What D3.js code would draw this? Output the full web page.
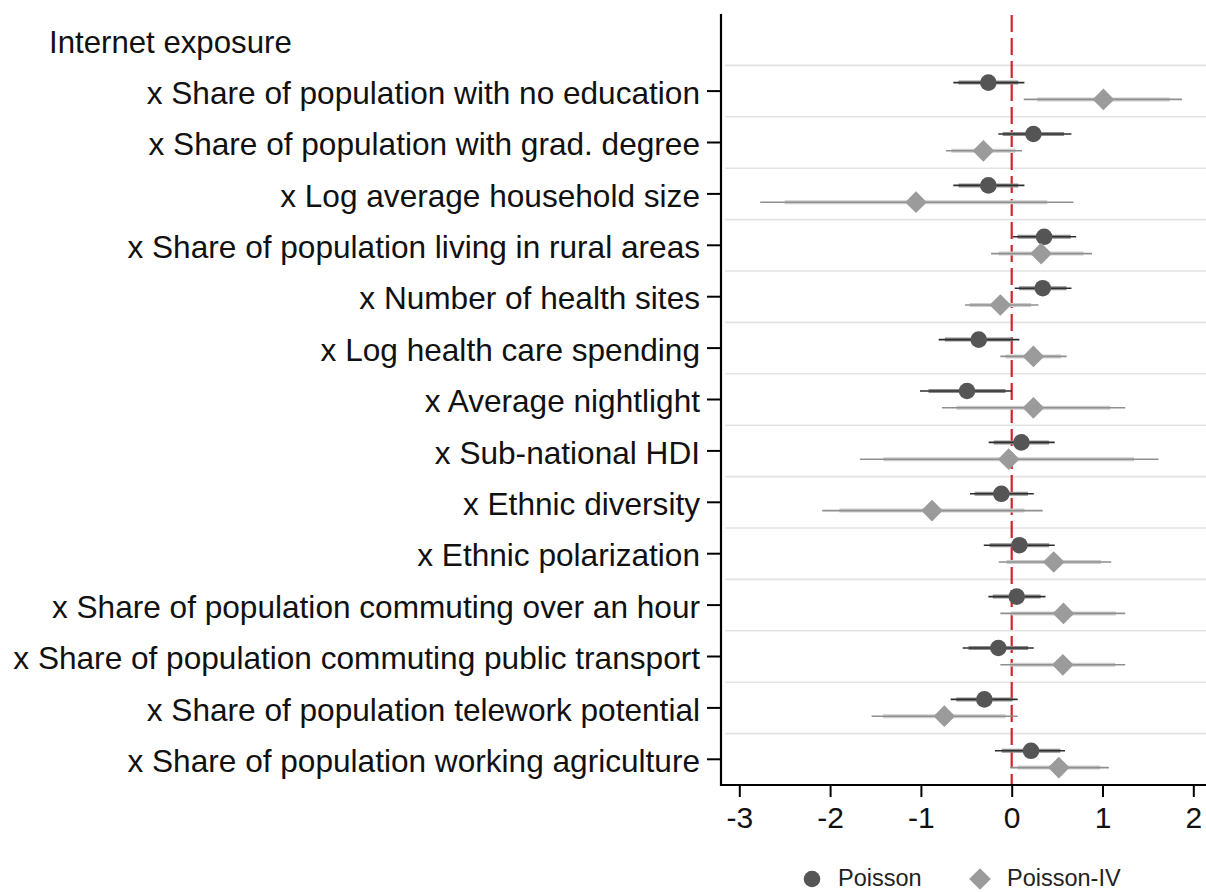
<!DOCTYPE html>
<html><head><meta charset="utf-8">
<script src="https://cdn.jsdelivr.net/npm/d3@7"></script>
<style>
html,body{margin:0;padding:0;background:#fff;}
svg{display:block;font-family:"Liberation Sans",Arial,Helvetica,sans-serif;}
</style></head>
<body>
<svg id="chart" width="1206" height="892"></svg>
<script>
const header = "Internet exposure";
const categories = [
  "x Share of population with no education",
  "x Share of population with grad. degree",
  "x Log average household size",
  "x Share of population living in rural areas",
  "x Number of health sites",
  "x Log health care spending",
  "x Average nightlight",
  "x Sub-national HDI",
  "x Ethnic diversity",
  "x Ethnic polarization",
  "x Share of population commuting over an hour",
  "x Share of population commuting public transport",
  "x Share of population telework potential",
  "x Share of population working agriculture"
];
const seriesNames = ["Poisson", "Poisson-IV"];
const poisson     = [-0.257, 0.239, -0.257, 0.357, 0.342, -0.363, -0.492, 0.107, -0.114, 0.085, 0.055, -0.147, -0.301, 0.213];
const poissonLo95 = [-0.643, -0.147, -0.643, 0.011, 0.033, -0.804, -1.010, -0.254, -0.459, -0.308, -0.257, -0.540, -0.672, -0.184];
const poissonHi95 = [0.140, 0.658, 0.140, 0.710, 0.658, 0.085, 0.000, 0.474, 0.243, 0.474, 0.372, 0.243, 0.066, 0.587];
const poissonLo90 = [-0.586, -0.099, -0.586, 0.064, 0.080, -0.736, -0.916, -0.198, -0.408, -0.243, -0.209, -0.475, -0.611, -0.110];
const poissonHi90 = [0.072, 0.577, 0.072, 0.650, 0.604, 0.010, -0.068, 0.412, 0.180, 0.413, 0.319, 0.181, 0.009, 0.536];
const iv     = [1.010, -0.312, -1.054, 0.324, -0.125, 0.239, 0.239, -0.033, -0.878, 0.463, 0.570, 0.563, -0.742, 0.519];
const ivLo95 = [0.133, -0.724, -2.770, -0.227, -0.514, -0.125, -0.768, -1.672, -2.087, -0.143, -0.125, -0.125, -1.543, -0.018];
const ivHi95 = [1.875, 0.114, 0.680, 0.885, 0.294, 0.605, 1.250, 1.617, 0.342, 1.096, 1.250, 1.250, 0.066, 1.070];
const ivLo90 = [0.279, -0.664, -2.501, -0.142, -0.464, -0.067, -0.608, -1.413, -1.897, -0.057, -0.007, -0.014, -1.417, 0.063];
const ivHi90 = [1.741, 0.040, 0.393, 0.790, 0.214, 0.545, 1.086, 1.347, 0.141, 0.983, 1.147, 1.140, -0.067, 0.975];
const xTicks = [-3, -2, -1, 0, 1, 2];

const svg = d3.select("#chart");
const W = 1206, H = 892;
svg.append("rect").attr("width", W).attr("height", H).attr("fill", "#fff");

const plotLeft = 721, plotRight = 1206, plotTop = 14, plotBottom = 785;
const x = d3.scaleLinear().domain([-3, 2]).range([739.3, 1193.3]);
const y = d3.scaleBand().domain([header, ...categories]).range([plotTop, plotBottom]).padding(0);
const bw = y.bandwidth();
const yc = c => y(c) + bw / 2;

// gridlines between rows
const g = svg.append("g");
categories.forEach(c => {
  g.append("line").attr("x1", plotLeft + 4).attr("x2", plotRight)
    .attr("y1", y(c)).attr("y2", y(c))
    .attr("stroke", "#e3e3e3").attr("stroke-width", 1.6);
});

// zero line
svg.append("line").attr("x1", x(0)).attr("x2", x(0))
  .attr("y1", plotTop + 1).attr("y2", plotBottom)
  .attr("stroke", "#d9202a").attr("stroke-width", 2.2)
  .attr("stroke-dasharray", "17,6");

const series = [
  {name: seriesNames[0], est: poisson, lo95: poissonLo95, hi95: poissonHi95, lo90: poissonLo90, hi90: poissonHi90,
   off: -8.5, thick: "#8e8e8e", thin: "#2e2e2e", fill: "#555555", shape: "circle"},
  {name: seriesNames[1], est: iv, lo95: ivLo95, hi95: ivHi95, lo90: ivLo90, hi90: ivHi90,
   off: 8.3, thick: "#cdcdcd", thin: "#8f8f8f", fill: "#9b9b9b", shape: "diamond"}
];

const circleSym = d3.symbol(d3.symbolCircle, Math.PI * 8.3 * 8.3);
const diamondSym = d3.symbol(d3.symbolSquare, 235);

series.forEach(s => {
  const sg = svg.append("g");
  categories.forEach((c, i) => {
    const yy = yc(c) + s.off;
    sg.append("line").attr("x1", x(s.lo90[i])).attr("x2", x(s.hi90[i]))
      .attr("y1", yy).attr("y2", yy).attr("stroke", s.thick).attr("stroke-width", 4);
    sg.append("line").attr("x1", x(s.lo95[i])).attr("x2", x(s.hi95[i]))
      .attr("y1", yy).attr("y2", yy).attr("stroke", s.thin).attr("stroke-width", 1.6);
  });
  categories.forEach((c, i) => {
    const yy = yc(c) + s.off;
    if (s.shape === "circle") {
      sg.append("path").attr("d", circleSym()).attr("transform", `translate(${x(s.est[i])},${yy})`)
        .attr("fill", s.fill);
    } else {
      sg.append("path").attr("d", diamondSym()).attr("transform", `translate(${x(s.est[i])},${yy}) rotate(45)`)
        .attr("fill", s.fill);
    }
  });
});

// y axis
const yAxis = d3.axisLeft(y).tickValues(categories).tickSize(14).tickPadding(7).tickSizeOuter(0);
const ya = svg.append("g").attr("transform", `translate(${plotLeft},0)`).call(yAxis);
ya.select(".domain").remove();
ya.selectAll(".tick line").attr("stroke", "#000").attr("stroke-width", 2);
ya.selectAll(".tick text").attr("font-size", 31.6).attr("fill", "#111")
  .attr("font-family", "'Liberation Sans', Arial, sans-serif").attr("dy", "0.4em");
svg.append("line").attr("x1", plotLeft).attr("x2", plotLeft).attr("y1", plotTop).attr("y2", plotBottom + 1)
  .attr("stroke", "#000").attr("stroke-width", 2.2);

// header label
svg.append("text").attr("x", 49).attr("y", yc(header) + 13).attr("font-size", 31.2).attr("fill", "#111")
  .text(header);

// x axis
const xAxis = d3.axisBottom(x).tickValues(xTicks).tickSize(12).tickPadding(8).tickSizeOuter(0).tickFormat(d => String(d));
const xa = svg.append("g").attr("transform", `translate(0,${plotBottom})`).call(xAxis);
xa.select(".domain").remove();
xa.selectAll(".tick line").attr("stroke", "#000").attr("stroke-width", 2);
xa.selectAll(".tick text").attr("font-size", 30).attr("fill", "#111")
  .attr("font-family", "'Liberation Sans', Arial, sans-serif").attr("dy", "0.75em");
svg.append("line").attr("x1", plotLeft - 1).attr("x2", plotRight).attr("y1", plotBottom).attr("y2", plotBottom)
  .attr("stroke", "#000").attr("stroke-width", 2.2);

// legend
const leg = svg.append("g");
leg.append("path").attr("d", circleSym()).attr("transform", "translate(812,879)").attr("fill", series[0].fill);
leg.append("text").attr("x", 838).attr("y", 886).attr("font-size", 23.5).attr("fill", "#222").text(seriesNames[0]);
leg.append("path").attr("d", diamondSym()).attr("transform", "translate(980,879) rotate(45)").attr("fill", series[1].fill);
leg.append("text").attr("x", 1007).attr("y", 886).attr("font-size", 23.5).attr("fill", "#222").text(seriesNames[1]);
</script>
</body></html>
